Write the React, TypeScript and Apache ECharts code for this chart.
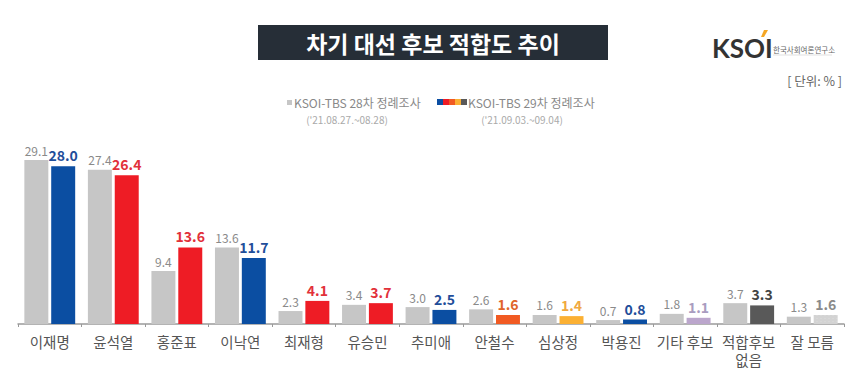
import React, { useEffect, useRef } from "react";
import * as echarts from "echarts";

const categories = ["이재명", "윤석열", "홍준표", "이낙연", "최재형", "유승민", "추미애", "안철수", "심상정", "박용진", "기타 후보", "적합후보\n없음", "잘 모름"];
const prevValues = [29.1, 27.4, 9.4, 13.6, 2.3, 3.4, 3.0, 2.6, 1.6, 0.7, 1.8, 3.7, 1.3];
const currValues = [28.0, 26.4, 13.6, 11.7, 4.1, 3.7, 2.5, 1.6, 1.4, 0.8, 1.1, 3.3, 1.6];
const prevName = "KSOI-TBS 28차 정례조사";
const currName = "KSOI-TBS 29차 정례조사";
const prevDate = "('21.08.27.~08.28)";
const currDate = "('21.09.03.~09.04)";

const barColors = ["#0b4ea2", "#ee1c25", "#ee1c25", "#0b4ea2", "#ee1c25", "#ee1c25", "#0b4ea2", "#f15a22", "#fbb033", "#0b4ea2", "#bba6cc", "#595959", "#d3d3d3"];
const labelColors = ["#1f4e9a", "#e2313a", "#e2313a", "#1f4e9a", "#e2313a", "#e2313a", "#1f4e9a", "#e0642a", "#f0a840", "#1f4e9a", "#a99cc0", "#444444", "#8a8a8a"];

const FONT = "'Noto Sans CJK KR', 'Noto Sans', sans-serif";

export default function App() {
  const ref = useRef<HTMLDivElement>(null);
  useEffect(() => {
    if (!ref.current) return;
    const chart = echarts.init(ref.current, null, { renderer: "svg" });
    const stripColors = ["#0b4ea2", "#ee1c25", "#f15a22", "#fbb033", "#595959"];
    chart.setOption({
      animation: false,
      backgroundColor: "#ffffff",
      textStyle: { fontFamily: FONT },
      grid: { left: 18, right: 18, top: 155, bottom: 54 },
      xAxis: {
        type: "category",
        data: categories,
        axisLine: { lineStyle: { color: "#9a9a9a", width: 1.5 } },
        axisTick: { show: true, length: 3, lineStyle: { color: "#9a9a9a" } },
        axisLabel: { color: "#555555", fontSize: 14.5, lineHeight: 18.5, margin: 8, interval: 0, fontFamily: FONT },
      },
      yAxis: { type: "value", min: 0, max: 30, show: false, splitLine: { show: false } },
      series: [
        {
          name: prevName,
          type: "bar",
          data: prevValues,
          barGap: "12%",
          barCategoryGap: "20%",
          itemStyle: { color: "#c6c6c6" },
          label: { show: true, position: "top", distance: 4, color: "#8a8a8a", fontSize: 12, formatter: (p: any) => p.value.toFixed(1) },
        },
        {
          name: currName,
          type: "bar",
          data: currValues.map((v, i) => ({
            value: v,
            itemStyle: i === 12
              ? { color: barColors[i], decal: { symbol: "rect", symbolSize: 0.6, color: "rgba(255,255,255,0.35)", dashArrayX: [2, 2], dashArrayY: [1, 2] } }
              : { color: barColors[i] },
            label: { color: labelColors[i] },
          })),
          barGap: "12%",
          barCategoryGap: "20%",
          label: { show: true, position: "top", distance: 4, fontSize: 14, fontWeight: "bold", formatter: (p: any) => p.value.toFixed(1) },
        },
      ],
      graphic: [
        { type: "rect", shape: { x: 258, y: 25, width: 350, height: 35 }, style: { fill: "#262e37" } },
        { type: "text", x: 433, y: 42.5, style: { text: "차기 대선 후보 적합도 추이", fill: "#ffffff", font: `bold 23px ${FONT}`, align: "center", verticalAlign: "middle" } },
        { type: "text", x: 712, y: 48, style: { text: "KSOI", fill: "#333333", font: `bold 26px 'Lato', 'DejaVu Sans', sans-serif`, align: "left", verticalAlign: "middle" } },
        { type: "polygon", shape: { points: [[764, 30], [768, 30], [764, 37], [761, 37]] }, style: { fill: "#f5a623" } },
        { type: "text", x: 773, y: 49, style: { text: "한국사회여론연구소", fill: "#666666", font: `7.5px ${FONT}`, align: "left", verticalAlign: "middle" } },
        { type: "line", shape: { x1: 773, y1: 55, x2: 832, y2: 55 }, style: { stroke: "#cccccc", lineWidth: 0.6 } },
        { type: "text", x: 842, y: 80, style: { text: "[ 단위: % ]", fill: "#666666", font: `12.5px ${FONT}`, align: "right", verticalAlign: "middle" } },
        { type: "rect", shape: { x: 287, y: 100, width: 5, height: 5 }, style: { fill: "#c6c6c6" } },
        { type: "text", x: 294, y: 102, style: { text: prevName, fill: "#888888", font: `12px ${FONT}`, align: "left", verticalAlign: "middle" } },
        { type: "text", x: 347, y: 119, style: { text: prevDate, fill: "#aaaaaa", font: `10px ${FONT}`, align: "center", verticalAlign: "middle" } },
        ...stripColors.map((c, i) => ({ type: "rect", shape: { x: 437 + i * 6, y: 99, width: 6, height: 6 }, style: { fill: c } })),
        { type: "text", x: 468, y: 102, style: { text: currName, fill: "#888888", font: `12px ${FONT}`, align: "left", verticalAlign: "middle" } },
        { type: "text", x: 522, y: 119, style: { text: currDate, fill: "#aaaaaa", font: `10px ${FONT}`, align: "center", verticalAlign: "middle" } },
      ],
    });
    return () => chart.dispose();
  }, []);
  return <div ref={ref} style={{ width: 862, height: 378, position: "absolute", left: 0, top: 0 }} />;
}
